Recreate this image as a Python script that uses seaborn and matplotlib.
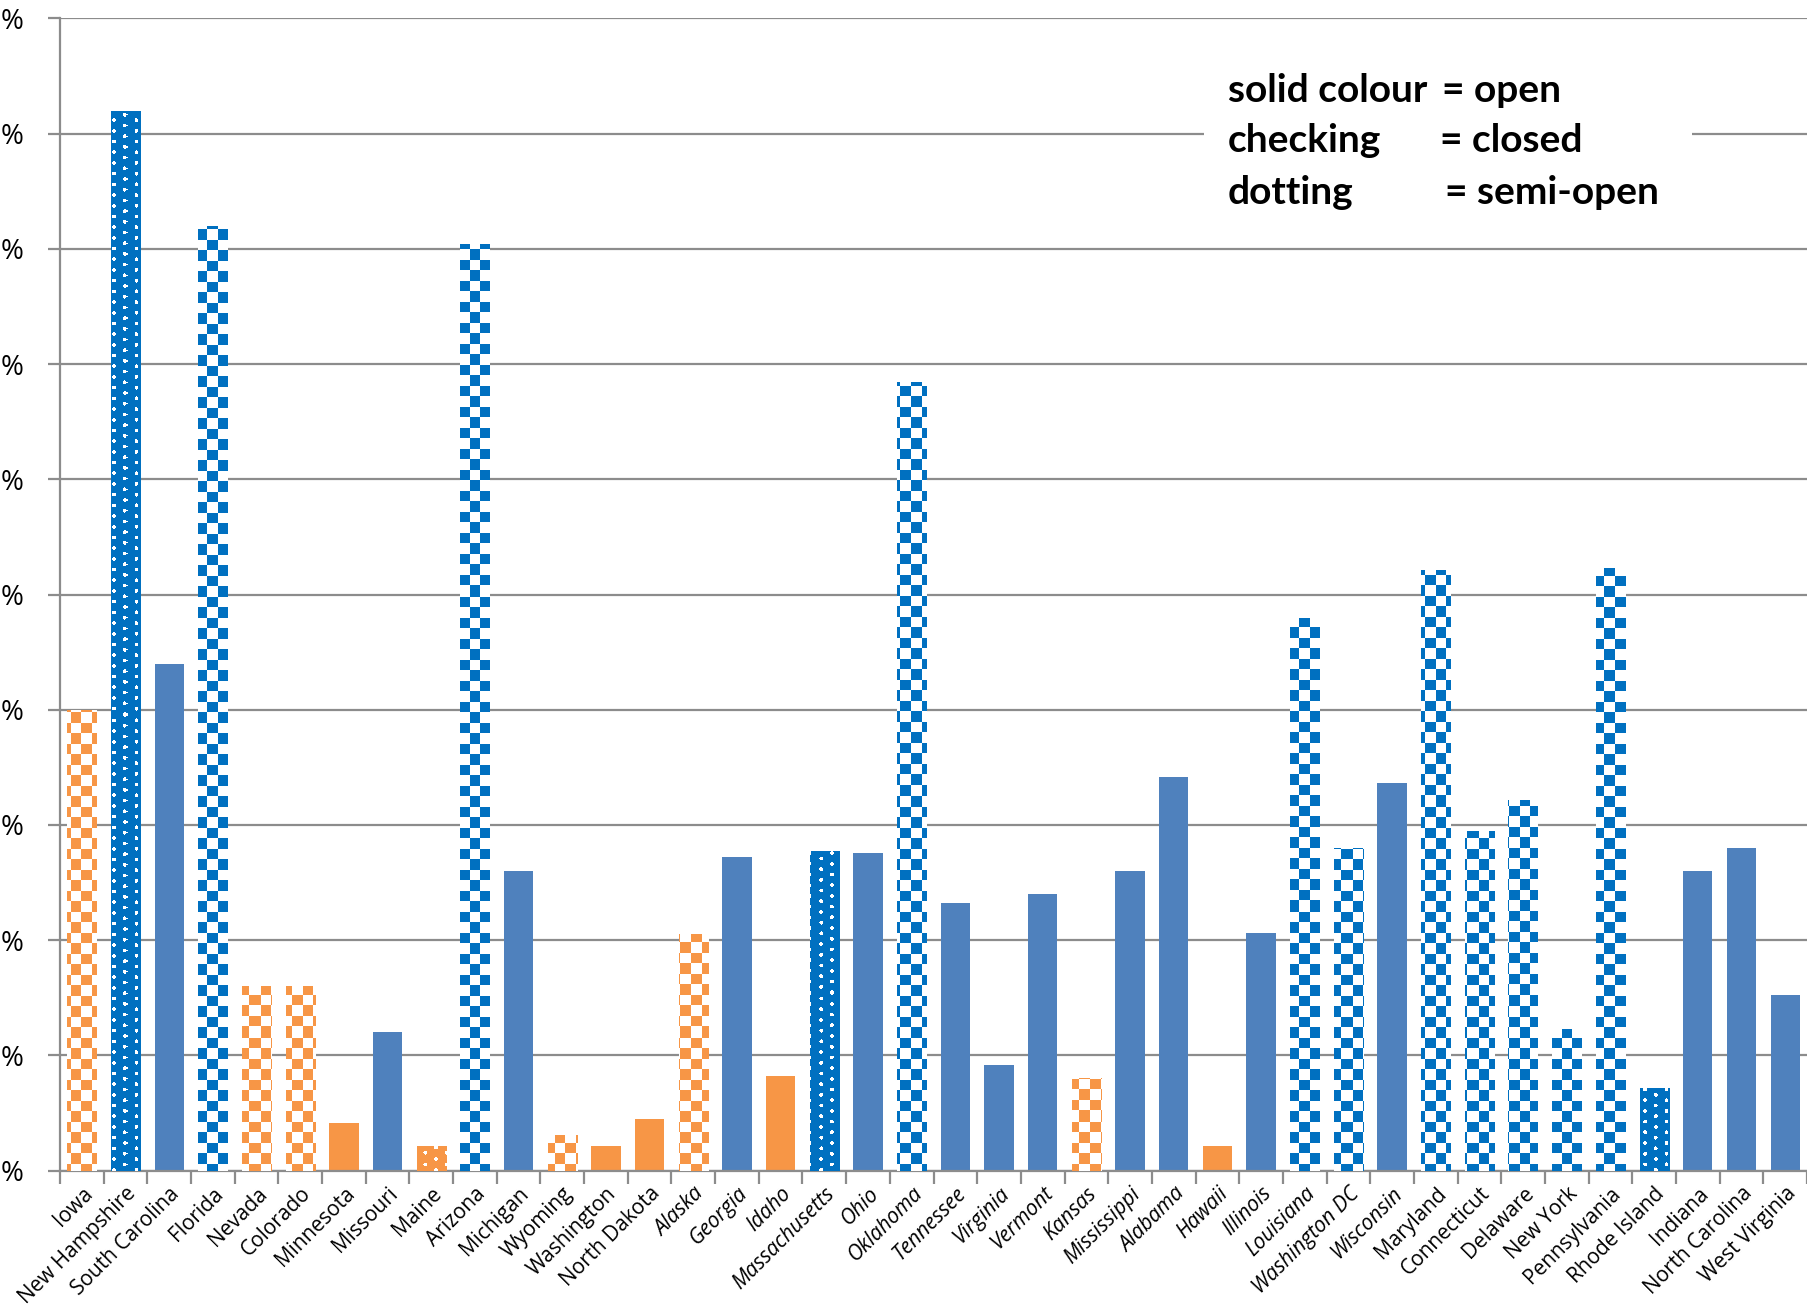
import numpy as np
import pandas as pd
import seaborn as sns
import matplotlib
matplotlib.use("Agg")
from matplotlib import pyplot as plt
from matplotlib.patches import Rectangle

# data (one gridline = one unit, labels cut to "%")
states = ["Iowa", "New Hampshire", "South Carolina", "Florida", "Nevada", "Colorado",
          "Minnesota", "Missouri", "Maine", "Arizona", "Michigan", "Wyoming", "Washington",
          "North Dakota", "Alaska", "Georgia", "Idaho", "Massachusetts", "Ohio", "Oklahoma",
          "Tennessee", "Virginia", "Vermont", "Kansas", "Mississippi", "Alabama", "Hawaii",
          "Illinois", "Louisiana", "Washington DC", "Wisconsin", "Maryland", "Connecticut",
          "Delaware", "New York", "Pennsylvania", "Rhode Island", "Indiana", "North Carolina",
          "West Virginia"]
values = [4.0, 9.2, 4.4, 8.2, 1.6, 1.6, 0.41, 1.2, 0.21, 8.04, 2.6, 0.31, 0.21, 0.45,
          2.05, 2.72, 0.82, 2.77, 2.76, 6.84, 2.32, 0.92, 2.4, 0.8, 2.6, 3.42, 0.21, 2.06,
          4.8, 2.8, 3.36, 5.21, 2.95, 3.22, 1.23, 5.23, 0.72, 2.6, 2.8, 1.52]
group = ["o", "b", "b", "b", "o", "o", "o", "b", "o", "b", "b", "o", "o", "o", "o", "b",
         "o", "b", "b", "b", "b", "b", "b", "o", "b", "b", "o", "b", "b", "b", "b", "b",
         "b", "b", "b", "b", "b", "b", "b", "b"]
status = ["closed", "semi", "open", "closed", "closed", "closed", "open", "open", "semi",
          "closed", "open", "closed", "open", "open", "closed", "open", "open", "semi",
          "open", "closed", "open", "open", "open", "closed", "open", "open", "open", "open",
          "closed", "closed", "open", "closed", "closed", "closed", "closed", "closed",
          "semi", "open", "open", "open"]
legend_left = ["solid colour", "checking", "dotting"]
legend_right = ["= open", "= closed", "= semi-open"]

SOLID_BLUE = "#4F81BD"
PAT_BLUE = "#0070C0"
ORANGE = "#F79646"

df = pd.DataFrame({"state": states, "value": values, "group": group, "status": status})
colours = [ORANGE if g == "o" else (SOLID_BLUE if s == "open" else PAT_BLUE)
           for g, s in zip(group, status)]

W_PX, H_PX = 1807, 1311
fig = plt.figure(figsize=(W_PX / 100, H_PX / 100), dpi=100)
ax_l, ax_b, ax_w, ax_h = 60, 140.4, 1747, 1152.2
ax = fig.add_axes([ax_l / W_PX, ax_b / H_PX, ax_w / W_PX, ax_h / H_PX])

sns.barplot(data=df, x="state", y="value", hue="state", palette=colours, legend=False,
            width=0.67, saturation=1, linewidth=0, ax=ax)

# pattern images in screen pixels
H, W = int(ax_h), int(ax_w)
yy, xx = np.mgrid[0:H, 0:W]
cell = 10.5
checker = ((xx // cell + yy // cell) % 2) == 0
dx = 10.7
col = np.round(xx / dx)
off = (col % 2) * dx / 2
row = np.round((yy - off) / dx)
dots = np.hypot(xx - col * dx, yy - (row * dx + off)) < 1.9


def pattern(mask, colour):
    rgb = np.array(matplotlib.colors.to_rgb(colour))
    img = np.ones((H, W, 3))
    img[~mask] = rgb
    return img


img_check_b = pattern(checker, PAT_BLUE)
img_check_o = pattern(checker, ORANGE)
img_dot_b = pattern(dots, PAT_BLUE)
img_dot_o = pattern(dots, ORANGE)

n = len(states)
for patch, g, s in zip(ax.patches, group, status):
    if s == "open":
        continue
    if s == "closed":
        img = img_check_o if g == "o" else img_check_b
    else:
        img = img_dot_o if g == "o" else img_dot_b
    im = ax.imshow(img, extent=[-0.5, n - 0.5, 0, 10], aspect="auto",
                   interpolation="nearest", zorder=3)
    im.set_clip_path(patch)

ax.set_xlim(-0.5, n - 0.5)
ax.set_ylim(0, 10)
ax.set_axisbelow(True)
ax.yaxis.grid(True, color="#8c8c8c", linewidth=1.6)
ax.xaxis.grid(False)
ax.set_facecolor("white")
for side in ["top", "right"]:
    ax.spines[side].set_visible(False)
for side in ["left", "bottom"]:
    ax.spines[side].set_color("#8c8c8c")
    ax.spines[side].set_linewidth(1.6)

ax.set_yticks(range(11))
ax.set_yticklabels(["%"] * 11, fontsize=20, fontfamily="Open Sans")
ax.tick_params(axis="y", length=9, color="#8c8c8c", width=1.6, pad=17)
ax.set_ylabel("")
ax.set_xlabel("")

ax.set_xticks(range(n))
ax.set_xticklabels(states, rotation=45, ha="right", rotation_mode="anchor",
                   fontsize=15, fontfamily="Open Sans")
for i, lab in enumerate(ax.get_xticklabels()):
    if 14 <= i <= 30:
        lab.set_fontstyle("italic")
ax.tick_params(axis="x", length=0, pad=9)
ax.set_xticks(np.arange(-0.5, n, 1), minor=True)
ax.tick_params(axis="x", which="minor", length=9, color="#8c8c8c", width=1.6)

# legend text box
fig.add_artist(Rectangle((1204 / W_PX, 1 - 240 / H_PX), 488 / W_PX, 205 / H_PX,
                         transform=fig.transFigure, facecolor="white", edgecolor="none",
                         zorder=5))
eq_x = [1442, 1440, 1445]
line_y = [90, 141, 193]
for k in range(3):
    y = 1 - line_y[k] / H_PX
    fig.text(1228 / W_PX, y, legend_left[k], fontsize=28, fontweight="bold",
             fontfamily="Lato", va="center", zorder=6)
    fig.text(eq_x[k] / W_PX, y, legend_right[k], fontsize=28, fontweight="bold",
             fontfamily="Lato", va="center", zorder=6)

fig.savefig("out.png", dpi=100, facecolor="white")
